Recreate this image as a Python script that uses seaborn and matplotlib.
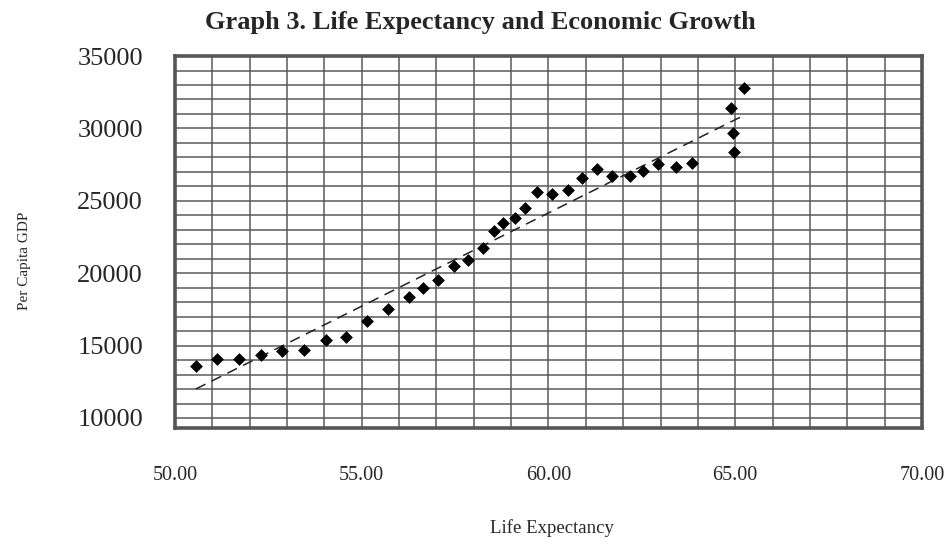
import seaborn as sns
import pandas as pd
import matplotlib
matplotlib.use('Agg')
import matplotlib.pyplot as plt
from matplotlib.ticker import MultipleLocator
import numpy as np

# values
life_expectancy = [50.56, 51.12, 51.71, 52.30, 52.87, 53.46, 54.03, 54.58, 55.15, 55.69,
                   56.27, 56.65, 57.05, 57.47, 57.85, 58.25, 58.54, 58.79, 59.10, 59.37,
                   59.68, 60.10, 60.51, 60.89, 61.29, 61.71, 62.17, 62.54, 62.92, 63.41,
                   63.85, 64.89, 64.93, 64.97, 65.24]
per_capita_gdp = [13620, 14100, 14100, 14360, 14650, 14700, 15370, 15620, 16680, 17530,
                  18360, 18980, 19500, 20470, 20930, 21740, 22890, 23460, 23800, 24490,
                  25640, 25480, 25760, 26570, 27190, 26680, 26720, 27090, 27530, 27370,
                  27600, 31390, 29710, 28360, 32770]
x_ticks = [50, 55, 60, 65, 70]
y_ticks = [10000, 15000, 20000, 25000, 30000, 35000]

sns.set_style('white')
plt.rcParams['font.family'] = ['Liberation Serif', 'DejaVu Serif']

data = pd.DataFrame({'life': life_expectancy, 'gdp': per_capita_gdp})


def plot_life_gdp():
    fig = plt.figure(figsize=(9.51, 5.44), dpi=100)
    ax = fig.add_axes([0.184, 0.213, 0.7855, 0.684])

    sns.scatterplot(x='life', y='gdp', data=data, marker='D', s=36,
                    color='black', edgecolor='black', linewidth=0.5, zorder=4, ax=ax)
    sns.regplot(x='life', y='gdp', data=data, scatter=False, ci=None, truncate=True,
                line_kws={'color': '#222222', 'lw': 1.1, 'ls': (0, (7, 4.5))}, ax=ax)

    ax.set_xlim(50, 70)
    ax.set_ylim(9300, 35000)
    ax.xaxis.set_major_locator(plt.FixedLocator(x_ticks))
    ax.yaxis.set_major_locator(plt.FixedLocator(y_ticks))
    ax.xaxis.set_minor_locator(MultipleLocator(1))
    ax.yaxis.set_minor_locator(MultipleLocator(1000))
    ax.set_xticklabels(['%.2f' % v for v in x_ticks])
    ax.set_yticklabels([str(v) for v in y_ticks])
    ax.grid(True, which='both', color='#5a5a5a', lw=1.1)
    ax.set_axisbelow(True)

    ax.tick_params(axis='x', which='both', length=0, pad=27, labelsize=14.5)
    ax.tick_params(axis='y', which='both', length=0, pad=23, labelsize=19)
    for sp in ax.spines.values():
        sp.set_visible(True)
        sp.set_color('#555555')
        sp.set_linewidth(2.6)

    ax.set_xlabel('Life Expectancy', fontsize=13.5)
    ax.set_ylabel('Per Capita GDP', fontsize=11)
    ax.xaxis.set_label_coords(0.505, -0.245)
    ax.yaxis.set_label_coords(-0.193, 0.45)
    fig.suptitle('Graph 3. Life Expectancy and Economic Growth', x=0.505, y=0.98,
                 fontsize=19, fontweight='bold', va='top')

    plt.savefig('out.png', dpi=100)


plot_life_gdp()
